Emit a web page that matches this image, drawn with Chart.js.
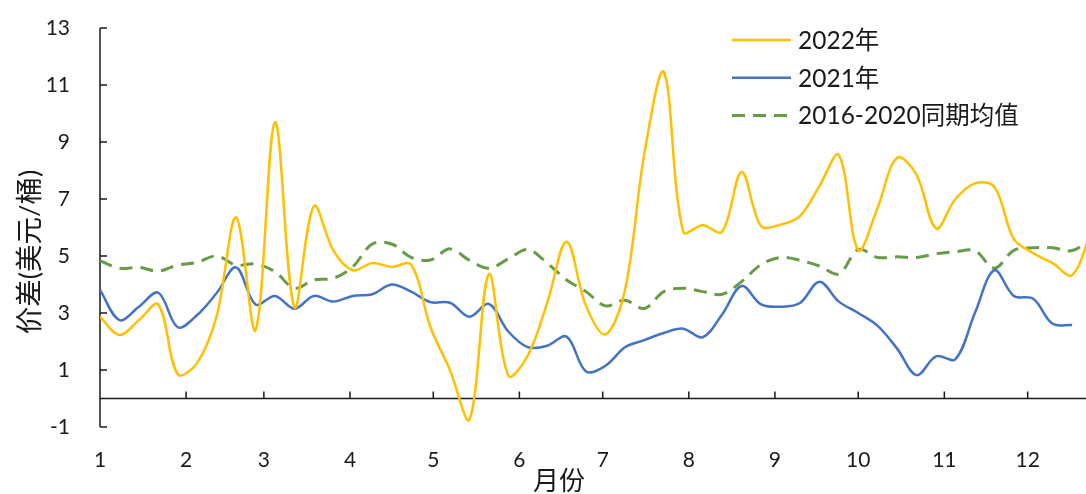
<!DOCTYPE html>
<html>
<head>
  <meta charset="utf-8">
  <title>价差</title>
  <script src="https://cdn.jsdelivr.net/npm/chart.js"></script>
  <style>
    body { margin: 0; background: #fff; }
    canvas { display: block; }
  </style>
</head>
<body>
  <canvas id="spreadChart" width="1086" height="494"></canvas>

  <script>
    // day of year for each weekly reading
    const weekDays = [0, 7, 14, 21, 28, 35, 42, 49, 56, 63, 70, 77, 84, 91, 98, 105, 112, 119, 126,
      133, 140, 147, 154, 161, 168, 175, 182, 189, 196, 203, 210, 217, 224, 231, 238, 245, 252,
      259, 266, 273, 280, 287, 294, 301, 308, 315, 322, 329, 336, 343, 350, 357];

    // month tick positions (first day of each month) and their labels
    const monthStarts = [0, 31, 59, 90, 120, 151, 181, 212, 243, 273, 304, 334];
    const monthLabels = ['1', '2', '3', '4', '5', '6', '7', '8', '9', '10', '11', '12'];

    const seriesNames = ['2022年', '2021年', '2016-2020同期均值'];

    const spread2022 = [2.87, 2.23, 2.75, 3.3, 0.85, 1.25, 2.9, 6.35, 2.4, 9.7, 3.2, 6.75, 5.2, 4.5,
      4.75, 4.62, 4.7, 2.5, 1.0, -0.75, 4.36, 0.8, 1.5, 3.35, 5.5, 3.25, 2.25, 3.8, 8.6, 11.45,
      5.85, 6.08, 5.85, 7.95, 6.05, 6.1, 6.4, 7.45, 8.55, 5.2, 6.7, 8.45, 7.85, 5.97, 7.0, 7.55,
      7.43, 5.6, 5.1, 4.75, 4.33, 5.9];

    const spread2021 = [3.81, 2.75, 3.22, 3.71, 2.5, 2.93, 3.7, 4.6, 3.3, 3.6, 3.15, 3.6, 3.4, 3.6,
      3.66, 4.0, 3.75, 3.38, 3.36, 2.87, 3.32, 2.35, 1.8, 1.85, 2.17, 0.95, 1.15, 1.8, 2.05, 2.3,
      2.45, 2.15, 2.95, 3.95, 3.3, 3.22, 3.35, 4.1, 3.4, 3.0, 2.55, 1.75, 0.82, 1.48, 1.38, 3.0,
      4.5, 3.6, 3.5, 2.62, 2.58];

    const spreadAvg = [4.84, 4.57, 4.6, 4.47, 4.68, 4.78, 5.0, 4.68, 4.72, 4.45, 3.87, 4.16, 4.22,
      4.62, 5.42, 5.42, 4.95, 4.86, 5.25, 4.85, 4.57, 4.9, 5.23, 4.75, 4.16, 3.75, 3.25, 3.45,
      3.16, 3.75, 3.87, 3.75, 3.66, 4.1, 4.7, 4.95, 4.85, 4.65, 4.37, 5.23, 4.95, 4.97, 4.95,
      5.08, 5.15, 5.19, 4.57, 5.2, 5.29, 5.29, 5.19, 5.6];

    const toPoints = vals => vals.map((v, i) => ({ x: weekDays[i], y: v }));

    const FONT = "Lato, 'Noto Sans CJK SC', sans-serif";
    const TEXT = '#1a1a1a';

    // axis lines drawn Excel-style: y axis with inward ticks, x axis line at zero
    const axisPlugin = {
      id: 'axisLines',
      beforeDatasetsDraw(chart) {
        const { ctx, chartArea: a, scales: { x, y } } = chart;
        ctx.save();
        ctx.strokeStyle = TEXT;
        ctx.lineWidth = 1.5;
        ctx.beginPath();
        ctx.moveTo(a.left, a.top);
        ctx.lineTo(a.left, a.bottom);
        y.ticks.forEach(t => {
          const py = y.getPixelForValue(t.value);
          ctx.moveTo(a.left, py);
          ctx.lineTo(a.left + 7, py);
        });
        const y0 = y.getPixelForValue(0);
        ctx.moveTo(a.left, y0);
        ctx.lineTo(a.right, y0);
        x.ticks.forEach(t => {
          const px = x.getPixelForValue(t.value);
          ctx.moveTo(px, y0);
          ctx.lineTo(px, y0 - 7);
        });
        ctx.stroke();
        ctx.restore();
      },
      afterDraw(chart) {
        const { ctx } = chart;
        ctx.save();
        // legend
        ctx.font = '24.5px ' + FONT;
        ctx.fillStyle = TEXT;
        ctx.textBaseline = 'middle';
        chart.data.datasets.forEach((ds, i) => {
          const ly = 40 + i * 37.7;
          ctx.strokeStyle = ds.borderColor;
          ctx.lineWidth = ds.borderWidth;
          ctx.setLineDash(ds.borderDash || []);
          ctx.beginPath();
          ctx.moveTo(732, ly);
          ctx.lineTo(791, ly);
          ctx.stroke();
          ctx.setLineDash([]);
          ctx.fillText(ds.label, 798, ly + 1);
        });
        // axis titles
        ctx.font = '26px ' + FONT;
        ctx.textAlign = 'center';
        ctx.fillText('月份', 559, 482);
        ctx.font = '27.5px ' + FONT;
        ctx.translate(30, 252);
        ctx.rotate(-Math.PI / 2);
        ctx.fillText('价差(美元/桶)', 0, 0);
        ctx.restore();
      }
    };

    const ctx = document.getElementById('spreadChart').getContext('2d');
    new Chart(ctx, {
      type: 'line',
      data: {
        datasets: [{
          label: seriesNames[0],
          data: toPoints(spread2022),
          borderColor: '#FFC000',
          borderWidth: 2.5,
          tension: 0.35
        }, {
          label: seriesNames[1],
          data: toPoints(spread2021),
          borderColor: '#4472C4',
          borderWidth: 2.5,
          tension: 0.35
        }, {
          label: seriesNames[2],
          data: toPoints(spreadAvg),
          borderColor: '#669C48',
          borderWidth: 3,
          borderDash: [13, 8],
          tension: 0.35
        }]
      },
      options: {
        responsive: false,
        animation: false,
        devicePixelRatio: 1,
        elements: { point: { radius: 0 } },
        layout: { padding: { top: 28, right: 0, left: 0, bottom: 0 } },
        plugins: {
          legend: { display: false },
          tooltip: { enabled: false }
        },
        scales: {
          x: {
            type: 'linear',
            min: 0,
            max: 355,
            border: { display: false },
            grid: { display: false, drawTicks: false },
            afterBuildTicks: scale => {
              scale.ticks = monthStarts.map(v => ({ value: v }));
            },
            afterFit: scale => { scale.height = 67; },
            ticks: {
              autoSkip: false,
              maxRotation: 0,
              padding: 21,
              color: TEXT,
              font: { family: FONT, size: 21 },
              callback: (value, index) => monthLabels[index]
            }
          },
          y: {
            min: -1,
            max: 13,
            border: { display: false },
            grid: { display: false, drawTicks: true, tickLength: 27 },
            afterFit: scale => { scale.width = 100; },
            ticks: {
              stepSize: 2,
              padding: 3,
              color: TEXT,
              font: { family: FONT, size: 21 }
            }
          }
        }
      },
      plugins: [axisPlugin]
    });
  </script>
</body>
</html>
